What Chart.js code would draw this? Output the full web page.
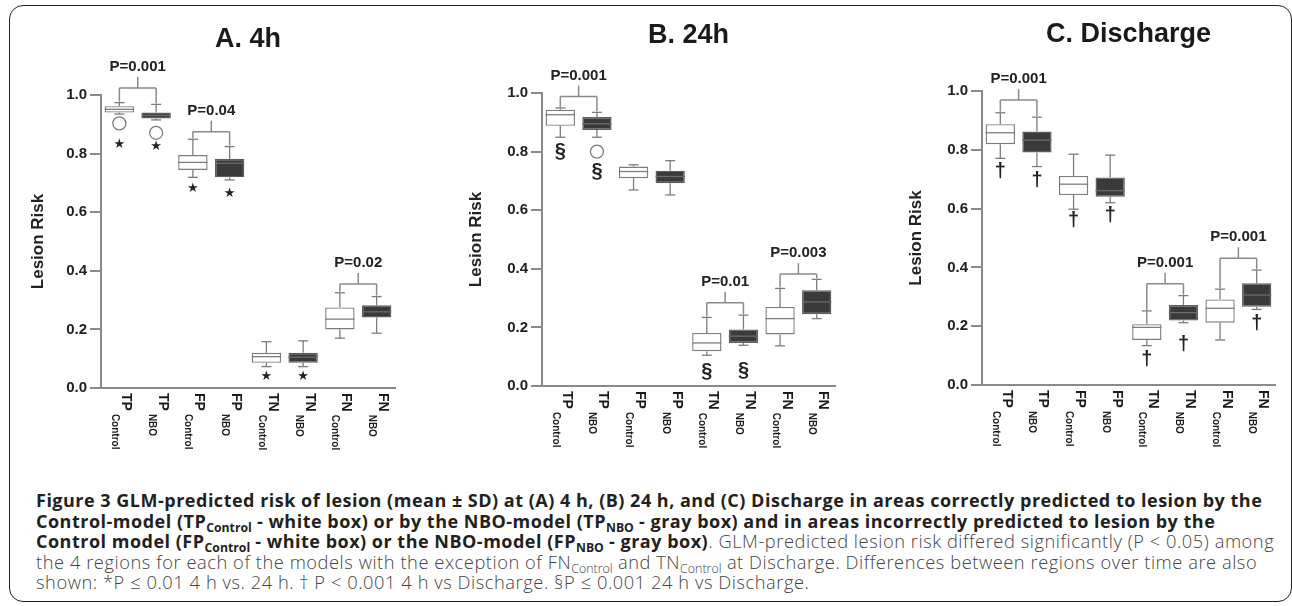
<!DOCTYPE html>
<html lang="en">
<head>
<meta charset="utf-8">
<title>Figure 3 - GLM-predicted risk of lesion</title>
<script src="https://cdn.jsdelivr.net/npm/chart.js"></script>
<style>
  html, body { margin: 0; padding: 0; background: #fff; }
  body { width: 1292px; height: 606px; position: relative; overflow: hidden; }
  #frame {
    position: absolute; left: 9px; top: 5px; width: 1283px; height: 597px;
    border: 1.5px solid #222; border-radius: 14px; box-sizing: border-box;
  }
  canvas { position: absolute; top: 8px; }
  #caption {
    position: absolute; left: 36px; top: 490px;
    font-family: "Open Sans", sans-serif; font-size: 18.3px; line-height: 19.7px;
    font-weight: 300; letter-spacing: 0.55px;
    color: #444; white-space: nowrap;
  }
  #caption b { color: #231f20; font-weight: 700; font-size: 18px; letter-spacing: 0.5px; }
  #caption sub { font-size: 0.68em; vertical-align: -0.3em; line-height: 0; letter-spacing: 0; }
</style>
</head>
<body>
<div id="frame"></div>
<canvas id="chartA" width="420" height="452" style="left:12px"></canvas>
<canvas id="chartB" width="420" height="452" style="left:452px"></canvas>
<canvas id="chartC" width="414" height="452" style="left:878px"></canvas>

<div id="caption">
  <div><b>Figure 3 GLM-predicted risk of lesion (mean ± SD) at (A) 4 h, (B) 24 h, and (C) Discharge in areas correctly predicted to lesion by the</b></div>
  <div><b>Control-model (TP<sub>Control</sub> - white box) or by the NBO-model (TP<sub>NBO</sub> - gray box) and in areas incorrectly predicted to lesion by the</b></div>
  <div><b>Control model (FP<sub>Control</sub> - white box) or the NBO-model (FP<sub>NBO</sub> - gray box)</b>. GLM-predicted lesion risk differed significantly (P &lt; 0.05) among</div>
  <div>the 4 regions for each of the models with the exception of FN<sub>Control</sub> and TN<sub>Control</sub> at Discharge. Differences between regions over time are also</div>
  <div>shown: *P ≤ 0.01 4 h vs. 24 h. † P &lt; 0.001 4 h vs Discharge. §P ≤ 0.001 24 h vs Discharge.</div>
</div>

<script>
// categories and tick labels
const categories = ['TP', 'TP', 'FP', 'FP', 'TN', 'TN', 'FN', 'FN'];
const subLabels = ['Control', 'NBO', 'Control', 'NBO', 'Control', 'NBO', 'Control', 'NBO'];
const yTickValues = [0, 0.2, 0.4, 0.6, 0.8, 1.0];
const panelTitles = ['A. 4h', 'B. 24h', 'C. Discharge'];

// A. 4h
const aLow  = [0.935, 0.915, 0.719, 0.710, 0.073, 0.073, 0.170, 0.187];
const aQ1   = [0.940, 0.920, 0.744, 0.719, 0.086, 0.086, 0.200, 0.241];
const aMed  = [0.951, 0.930, 0.770, 0.767, 0.107, 0.105, 0.235, 0.260];
const aQ3   = [0.962, 0.940, 0.795, 0.782, 0.120, 0.120, 0.275, 0.282];
const aHigh = [0.974, 0.968, 0.849, 0.824, 0.158, 0.161, 0.325, 0.312];
const aOutlier = [0.903, 0.871, null, null, null, null, null, null];
const aMark = [0.829, 0.824, 0.682, 0.662, 0.039, 0.039, null, null];
const aPValue = ['P=0.001', 'P=0.04', null, 'P=0.02'];
const aBracket = [1.024, 0.875, null, 0.355];

// B. 24h
const bLow  = [0.849, 0.849, 0.669, 0.652, 0.105, 0.139, 0.137, 0.230];
const bQ1   = [0.888, 0.874, 0.709, 0.692, 0.119, 0.147, 0.176, 0.245];
const bMed  = [0.926, 0.895, 0.732, 0.715, 0.147, 0.170, 0.230, 0.287];
const bQ3   = [0.943, 0.918, 0.749, 0.735, 0.181, 0.193, 0.270, 0.327];
const bHigh = [0.949, 0.934, 0.755, 0.769, 0.234, 0.242, 0.333, 0.364];
const bOutlier = [null, 0.800, null, null, null, null, null, null];
const bMark = [0.800, 0.732, null, null, 0.048, 0.054, null, null];
const bPValue = ['P=0.001', null, 'P=0.01', 'P=0.003'];
const bBracket = [0.988, null, 0.284, 0.382];

// C. Discharge
const cLow  = [0.771, 0.743, 0.598, 0.620, 0.134, 0.212, 0.153, 0.257];
const cQ1   = [0.819, 0.791, 0.646, 0.640, 0.153, 0.219, 0.212, 0.266];
const cMed  = [0.858, 0.833, 0.683, 0.661, 0.196, 0.246, 0.261, 0.306];
const cQ3   = [0.887, 0.862, 0.711, 0.706, 0.207, 0.272, 0.291, 0.346];
const cHigh = [0.926, 0.911, 0.785, 0.782, 0.252, 0.304, 0.326, 0.391];
const cOutlier = [null, null, null, null, null, null, null, null];
const cMark = [0.726, 0.697, 0.559, 0.575, 0.087, 0.139, null, 0.210];
const cPValue = ['P=0.001', null, 'P=0.001', 'P=0.001'];
const cBracket = [0.969, null, 0.344, 0.431];

const FONT = '"Liberation Sans", Arial, sans-serif';
const LINE = '#7d7d7d';
const AXIS = '#8a8a8a';

function drawLine(ctx, x1, y1, x2, y2) {
  ctx.beginPath();
  ctx.moveTo(x1, y1);
  ctx.lineTo(x2, y2);
  ctx.stroke();
}

function boxExtras(p) {
  return {
    id: 'boxExtras',
    afterDatasetsDraw(chart) {
      const { ctx, scales: { x, y } } = chart;
      const meta = chart.getDatasetMeta(0);
      ctx.save();
      ctx.lineWidth = 1.3;
      p.q1.forEach((q1, i) => {
        const cx = x.getPixelForValue(i);
        const half = meta.data[i].width / 2;
        const yHi = y.getPixelForValue(p.high[i]);
        const yLo = y.getPixelForValue(p.low[i]);
        ctx.strokeStyle = LINE;
        drawLine(ctx, cx, y.getPixelForValue(p.q3[i]), cx, yHi);
        drawLine(ctx, cx - 5, yHi, cx + 5, yHi);
        drawLine(ctx, cx, y.getPixelForValue(q1), cx, yLo);
        drawLine(ctx, cx - 5, yLo, cx + 5, yLo);
        // median
        ctx.strokeStyle = i % 2 ? '#6b6b6b' : LINE;
        const yMed = y.getPixelForValue(p.med[i]);
        drawLine(ctx, cx - half, yMed, cx + half, yMed);
        // outliers
        if (p.outlier[i] != null) {
          ctx.beginPath();
          ctx.arc(cx, y.getPixelForValue(p.outlier[i]), 6.5, 0, Math.PI * 2);
          ctx.fillStyle = '#fff';
          ctx.fill();
          ctx.strokeStyle = LINE;
          ctx.stroke();
        }
        // significance marks
        if (p.mark[i] != null) {
          ctx.fillStyle = '#222';
          ctx.textAlign = 'center';
          ctx.textBaseline = 'middle';
          ctx.font = p.symbol === '★' ? '13px "DejaVu Sans", sans-serif' : 'bold 20px ' + FONT;
          ctx.fillText(p.symbol, cx, y.getPixelForValue(p.mark[i]));
        }
      });

      // brackets with p-values
      ctx.strokeStyle = AXIS;
      ctx.lineWidth = 1.5;
      p.bracket.forEach((lvl, k) => {
        if (lvl == null) return;
        const x1 = x.getPixelForValue(2 * k);
        const x2 = x.getPixelForValue(2 * k + 1);
        const yb = y.getPixelForValue(lvl);
        drawLine(ctx, x1, y.getPixelForValue(p.high[2 * k]) - 1, x1, yb);
        drawLine(ctx, x1, yb, x2, yb);
        drawLine(ctx, x2, yb, x2, y.getPixelForValue(p.high[2 * k + 1]) - 1);
        const xm = (x1 + x2) / 2;
        drawLine(ctx, xm, yb, xm, yb - 11);
        ctx.fillStyle = '#222';
        ctx.font = 'bold 15px ' + FONT;
        ctx.textAlign = 'center';
        ctx.textBaseline = 'middle';
        ctx.fillText(p.pValue[k], xm, yb - 21);
      });
      ctx.restore();
    },
    afterDraw(chart) {
      const { ctx, chartArea, scales: { x, y } } = chart;
      ctx.save();
      // panel title
      ctx.fillStyle = '#1a1a1a';
      ctx.font = 'bold 27px ' + FONT;
      ctx.textAlign = 'center';
      ctx.textBaseline = 'middle';
      ctx.fillText(p.title, (chartArea.left + chartArea.right) / 2, p.titleY);

      // rotated category labels with subscripts
      const y0 = y.getPixelForValue(0);
      ctx.textAlign = 'left';
      ctx.textBaseline = 'alphabetic';
      categories.forEach((cat, i) => {
        const cx = x.getPixelForValue(i);
        ctx.save();
        ctx.translate(cx + 2.5, y0 + 5);
        ctx.rotate(Math.PI / 2);
        ctx.font = 'bold 14px ' + FONT;
        ctx.fillText(cat, 0, 0);
        const w = ctx.measureText(cat).width;
        ctx.font = 'bold 10px ' + FONT;
        ctx.fillText(subLabels[i], w + 3, 10);
        ctx.restore();
      });
      ctx.restore();
    }
  };
}

function makePanel(id, p, box) {
  new Chart(document.getElementById(id), {
    type: 'bar',
    data: {
      labels: categories.map((c, i) => c + ' ' + subLabels[i]),
      datasets: [{
        data: p.q1.map((v, i) => [v, p.q3[i]]),
        backgroundColor: categories.map((c, i) => i % 2 ? '#3a3a3a' : '#ffffff'),
        borderColor: categories.map((c, i) => i % 2 ? '#5e5e5e' : LINE),
        borderWidth: 1.4,
        borderSkipped: false,
        barPercentage: 0.8,
        categoryPercentage: 1.0
      }]
    },
    options: {
      responsive: false,
      animation: false,
      layout: { padding: { top: box.top, right: box.right, left: 0, bottom: 0 } },
      plugins: { legend: { display: false }, tooltip: { enabled: false }, title: { display: false } },
      scales: {
        x: {
          grid: { display: false },
          border: { display: true, color: AXIS, width: 2 },
          ticks: { display: false },
          afterFit: s => { s.height = box.xHeight; }
        },
        y: {
          min: 0,
          max: 1,
          afterBuildTicks: s => { s.ticks = yTickValues.map(v => ({ value: v })); },
          ticks: {
            callback: v => v.toFixed(1),
            color: '#222',
            padding: 3,
            font: { family: FONT, weight: 'bold', size: 15 }
          },
          grid: { drawOnChartArea: false, drawTicks: true, tickLength: 11, color: AXIS, lineWidth: 2 },
          border: { display: true, color: AXIS, width: 2 },
          title: {
            display: true,
            text: 'Lesion Risk',
            color: '#222',
            font: { family: FONT, weight: 'bold', size: 17 },
            padding: { top: box.titlePad, bottom: 0 }
          },
          afterFit: s => { s.width = box.yWidth; }
        }
      }
    },
    plugins: [boxExtras(p)]
  });
}

makePanel('chartA', {
  title: panelTitles[0], titleY: 32, symbol: '★',
  low: aLow, q1: aQ1, med: aMed, q3: aQ3, high: aHigh,
  outlier: aOutlier, mark: aMark, pValue: aPValue, bracket: aBracket
}, { top: 87, right: 37, xHeight: 72, yWidth: 89, titlePad: 16 });

makePanel('chartB', {
  title: panelTitles[1], titleY: 28, symbol: '§',
  low: bLow, q1: bQ1, med: bMed, q3: bQ3, high: bHigh,
  outlier: bOutlier, mark: bMark, pValue: bPValue, bracket: bBracket
}, { top: 85, right: 37, xHeight: 74, yWidth: 90, titlePad: 14 });

makePanel('chartC', {
  title: panelTitles[2], titleY: 27, symbol: '†',
  low: cLow, q1: cQ1, med: cMed, q3: cQ3, high: cHigh,
  outlier: cOutlier, mark: cMark, pValue: cPValue, bracket: cBracket
}, { top: 83, right: 17, xHeight: 75, yWidth: 104, titlePad: 28 });
</script>
</body>
</html>
